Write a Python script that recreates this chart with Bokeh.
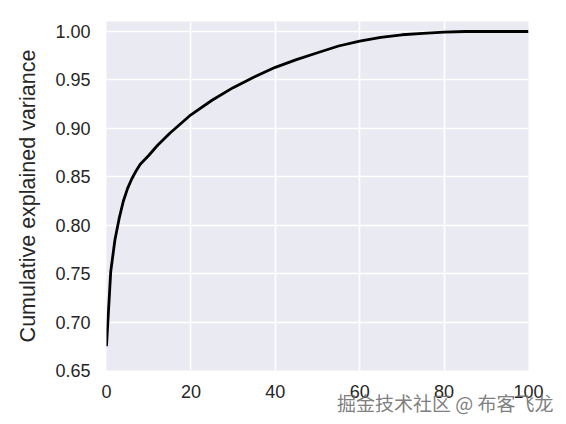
from bokeh.plotting import figure
from bokeh.embed import file_html
from bokeh.resources import INLINE
from bokeh.models import Range1d, FixedTicker, Title, CustomJSTickFormatter

# data
components = [0, 1, 2, 3, 4, 5, 6, 7, 8, 10, 12, 15, 20, 25, 30, 35, 40, 45,
              50, 55, 60, 65, 70, 75, 80, 85, 90, 95, 100]
cum_var = [0.675, 0.752, 0.785, 0.807, 0.825, 0.838, 0.848, 0.856, 0.863,
           0.872, 0.882, 0.895, 0.914, 0.929, 0.942, 0.953, 0.963, 0.971,
           0.978, 0.985, 0.990, 0.994, 0.9966, 0.998, 0.9993, 1.000, 1.000,
           1.000, 1.000]
x_ticks = [0, 20, 40, 60, 80, 100]
y_ticks = [0.65, 0.70, 0.75, 0.80, 0.85, 0.90, 0.95, 1.00]
y_label = "Cumulative explained variance"
watermark = "掘金技术社区 @ 布客飞龙"

p = figure(width=560, height=418, output_backend="svg", toolbar_location=None,
           x_range=Range1d(0, 100), y_range=Range1d(0.65, 1.0103),
           min_border_left=106, min_border_right=32, min_border_top=21,
           min_border_bottom=48)

p.background_fill_color = "#EAEAF2"
p.outline_line_color = None
p.border_fill_color = "white"

p.line(components, cum_var, line_color="black", line_width=2.8,
       line_join="round")

for ax in (p.xaxis, p.yaxis):
    ax.axis_line_color = None
    ax.major_tick_line_color = None
    ax.minor_tick_line_color = None
    ax.major_tick_out = 0
    ax.major_tick_in = 0
    ax.minor_tick_out = 0
    ax.major_label_text_font = "Liberation Sans"
    ax.major_label_text_font_size = "18px"
    ax.major_label_text_color = "#262626"

p.xaxis.ticker = FixedTicker(ticks=x_ticks)
p.yaxis.ticker = FixedTicker(ticks=y_ticks)
p.yaxis.formatter = CustomJSTickFormatter(code="return tick.toFixed(2);")
p.xaxis.major_label_standoff = 14
p.yaxis.major_label_standoff = 16

p.yaxis.axis_label = y_label
p.yaxis.axis_label_text_font = "Liberation Sans"
p.yaxis.axis_label_text_font_size = "21.5px"
p.yaxis.axis_label_text_font_style = "normal"
p.yaxis.axis_label_text_color = "#262626"
p.yaxis.axis_label_standoff = 12

p.xgrid.grid_line_color = "white"
p.ygrid.grid_line_color = "white"
p.xgrid.grid_line_width = 1.6
p.ygrid.grid_line_width = 1.6

p.add_layout(Title(text=watermark, align="right", offset=-25, standoff=-28,
                   text_font="Noto Sans CJK SC", text_font_size="19px",
                   text_font_style="normal", text_color="#6e6e6e",
                   text_alpha=0.9), "below")

open("out.html", "w").write(file_html(p, INLINE))
